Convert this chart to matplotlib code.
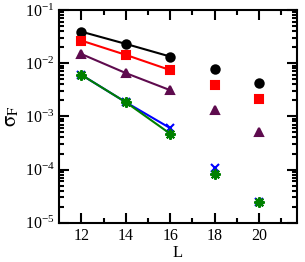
import numpy as np
import matplotlib
matplotlib.use("Agg")
from matplotlib import pyplot as plt
from matplotlib.ticker import LogLocator, NullFormatter, FixedLocator

plt.rcParams['font.family'] = ['Liberation Serif', 'DejaVu Serif']
plt.rcParams['mathtext.fontset'] = 'stix'

L = [12, 14, 16, 18, 20]
fit_L = 3  # lines join only the first three sizes

black = [0.039, 0.023, 0.0133, 0.0076, 0.0042]
red = [0.0265, 0.0143, 0.0074, 0.0038, 0.0021]
purple = [0.0148, 0.0065, 0.0031, 0.0013, 0.00051]
blue = [0.0060, 0.00184, 0.00060, 0.000106, 0.000024]
green = [0.0060, 0.00184, 0.00047, 0.000081, 0.000024]

fig = plt.figure(figsize=(3.05, 2.62), dpi=100)
ax = fig.add_axes([0.1945, 0.15, 0.778, 0.812])

series = [
    (black, "black", "o", 6),
    (red, "red", "s", 5.5),
    (purple, "#5e0b4e", "^", 6),
    (blue, "blue", "x", 5.5),
    (green, "green", (8, 2, 0), 7.5),
]
for y, c, m, ms in series:
    ax.plot(L[:fit_L], y[:fit_L], color=c, lw=1.5)
    ax.plot(L, y, ls="none", marker=m, ms=ms, color=c, mew=1.5)

ax.set_yscale("log")
ax.set_xlim(11, 21.7)
ax.set_ylim(1e-5, 1e-1)
ax.xaxis.set_major_locator(FixedLocator([12, 14, 16, 18, 20]))
ax.xaxis.set_minor_locator(FixedLocator([13, 15, 17, 19, 21]))
ax.yaxis.set_major_locator(LogLocator(base=10, numticks=10))
ax.yaxis.set_minor_locator(LogLocator(base=10, subs=np.arange(2, 10), numticks=20))
ax.yaxis.set_minor_formatter(NullFormatter())

for s in ax.spines.values():
    s.set_linewidth(1.5)
ax.tick_params(which="both", direction="in", top=True, right=True, width=1.5, labelsize=11.5)
ax.tick_params(which="major", length=7)
ax.tick_params(which="minor", length=3.5)

ax.set_xlabel("L", fontsize=12, labelpad=1)
ax.set_ylabel(r"$\mathrm{\sigma}_{\mathrm{F}}$", fontsize=15, labelpad=2)

fig.savefig("out.png", dpi=100)
